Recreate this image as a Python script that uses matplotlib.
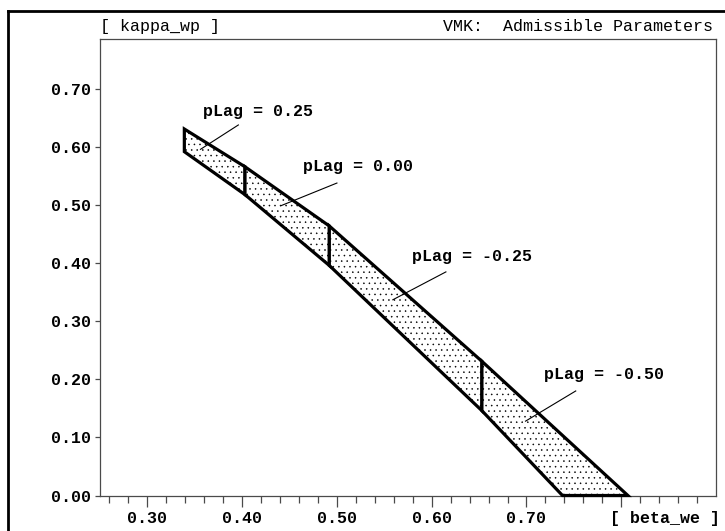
import matplotlib
matplotlib.use("Agg")
import matplotlib.pyplot as plt
from matplotlib.lines import Line2D
from matplotlib.patches import Polygon
from matplotlib.ticker import FixedLocator

# ---- data ----
beta_upper = [0.339, 0.403, 0.492, 0.653, 0.807]
kappa_upper = [0.631, 0.566, 0.464, 0.231, 0.000]
beta_lower = [0.339, 0.403, 0.492, 0.653, 0.738]
kappa_lower = [0.592, 0.518, 0.396, 0.146, 0.000]
seg_labels = ["pLag = 0.25", "pLag = 0.00", "pLag = -0.25", "pLag = -0.50"]
label_pos = [(0.359, 0.661), (0.464, 0.566), (0.579, 0.411), (0.718, 0.209)]
leader_start = [(0.396, 0.638), (0.500, 0.538), (0.615, 0.385), (0.752, 0.180)]
leader_end = [(0.356, 0.596), (0.441, 0.499), (0.559, 0.337), (0.699, 0.128)]
x_ticks = [0.30, 0.40, 0.50, 0.60, 0.70, 0.80]
x_ticklabels = ["0.30", "0.40", "0.50", "0.60", "0.70", ""]
x_minor = [0.26, 0.28, 0.32, 0.34, 0.36, 0.38, 0.42, 0.44, 0.46, 0.48,
           0.52, 0.54, 0.56, 0.58, 0.62, 0.64, 0.66, 0.68, 0.72, 0.74,
           0.76, 0.78, 0.82, 0.84, 0.86, 0.88]
y_ticks = [0.00, 0.10, 0.20, 0.30, 0.40, 0.50, 0.60, 0.70]
y_ticklabels = ["0.00", "0.10", "0.20", "0.30", "0.40", "0.50", "0.60", "0.70"]

plt.rcParams['font.family'] = ['Liberation Mono', 'DejaVu Sans Mono']
plt.rcParams['hatch.linewidth'] = 0.35
plt.rcParams['hatch.color'] = 'black'

W, H = 725, 531
fig = plt.figure(figsize=(W / 100, H / 100), dpi=100)
fig.patch.set_facecolor('white')
ax = fig.add_axes([100 / W, 1 - 495.5 / H, (716 - 100) / W, (495.5 - 39) / H])

ax.set_xlim(0.25, 0.90)
ax.set_ylim(0.0, 0.786)

frame_col = '#4a4a4a'
for s in ax.spines.values():
    s.set_color(frame_col)
    s.set_linewidth(0.9)

# segments
for i in range(len(seg_labels)):
    pts = [(beta_upper[i], kappa_upper[i]), (beta_upper[i + 1], kappa_upper[i + 1]),
           (beta_lower[i + 1], kappa_lower[i + 1]), (beta_lower[i], kappa_lower[i])]
    ax.add_patch(Polygon(pts, closed=True, facecolor='white', edgecolor='black',
                         hatch='...', linewidth=2.3, joinstyle='miter', zorder=3,
                         clip_on=False))

# labels and leaders
for lab, (tx, ty), (sx, sy), (ex, ey) in zip(seg_labels, label_pos, leader_start, leader_end):
    ax.text(tx, ty, lab, ha='left', va='center', fontsize=12, fontweight='bold', zorder=5)
    ax.plot([sx, ex], [sy, ey], color='black', linewidth=0.8, zorder=4)

# ticks
ax.xaxis.set_major_locator(FixedLocator(x_ticks))
ax.set_xticklabels(x_ticklabels)
ax.xaxis.set_minor_locator(FixedLocator(x_minor))
ax.yaxis.set_major_locator(FixedLocator(y_ticks))
ax.set_yticklabels(y_ticklabels)
ax.tick_params(axis='x', which='major', direction='out', length=8, width=0.9,
               color=frame_col, pad=3, labelsize=12)
ax.tick_params(axis='x', which='minor', direction='out', length=5, width=0.9,
               color=frame_col)
ax.tick_params(axis='y', which='major', direction='out', length=3.5, width=0.9,
               color=frame_col, pad=3, labelsize=12)
for t in ax.get_xticklabels() + ax.get_yticklabels():
    t.set_fontweight('bold')

# axis titles
fig.text(720 / W, 1 - 518 / H, "[ beta_we ]", ha='right', va='center',
         fontsize=12, fontweight='bold')
fig.text(100 / W, 1 - 31 / H, "[ kappa_wp ]", ha='left', va='baseline', fontsize=12)
fig.text(713 / W, 1 - 31 / H, "VMK:  Admissible Parameters", ha='right',
         va='baseline', fontsize=12)

# outer frame
fig.add_artist(Line2D([8 / W, 8 / W], [0, 1 - 11 / H], color='black', linewidth=2.0,
                      transform=fig.transFigure))
fig.add_artist(Line2D([8 / W, 1], [1 - 11 / H, 1 - 11 / H], color='black', linewidth=2.0,
                      transform=fig.transFigure, solid_capstyle='projecting'))

fig.savefig("out.png", dpi=100, facecolor='white')
